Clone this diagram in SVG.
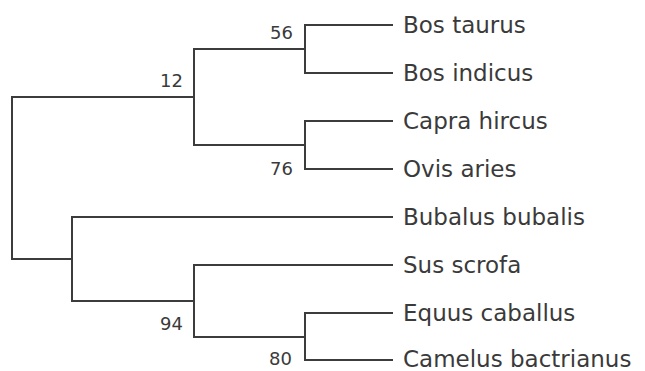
<svg xmlns="http://www.w3.org/2000/svg" width="645" height="371" viewBox="0 0 645 371">
  <style>
    .branch { fill: none; stroke: #3c3c3c; stroke-width: 2; stroke-linecap: square; }
    .taxon { font-family: "DejaVu Sans", Verdana, sans-serif; font-size: 23px; fill: #3a3a3a; }
    .boot { font-family: "DejaVu Sans", Verdana, sans-serif; font-size: 18px; fill: #3a3a3a; text-anchor: end; }
  </style>
  <rect width="645" height="371" fill="#ffffff"/>

  <!-- tree branches (rectangular cladogram) -->
  <g id="connectors">
    <!-- root -->
    <path class="branch" d="M194,97 H12 V259 H72"/>
    <!-- Bovidae clade -->
    <path class="branch" d="M305,49 H194 V145 H305"/>
    <!-- Bos pair -->
    <path class="branch" d="M392,25 H305 V73 H392"/>
    <!-- Capra/Ovis pair -->
    <path class="branch" d="M392,121 H305 V169 H392"/>
    <!-- Bubalus + rest -->
    <path class="branch" d="M392,217 H72 V301 H194"/>
    <!-- Sus + Equus/Camelus -->
    <path class="branch" d="M392,265 H194 V337 H305"/>
    <!-- Equus/Camelus pair -->
    <path class="branch" d="M392,313 H305 V360 H392"/>
  </g>

  <!-- bootstrap values -->
  <g id="support">
    <text class="boot" x="293" y="39">56</text>
    <text class="boot" x="183" y="87">12</text>
    <text class="boot" x="293" y="175">76</text>
    <text class="boot" x="183" y="330">94</text>
    <text class="boot" x="292" y="365">80</text>
  </g>

  <!-- taxa -->
  <g id="bos-taurus"><text class="taxon" x="403" y="33">Bos taurus</text></g>
  <g id="bos-indicus"><text class="taxon" x="403" y="81">Bos indicus</text></g>
  <g id="capra-hircus"><text class="taxon" x="403" y="129">Capra hircus</text></g>
  <g id="ovis-aries"><text class="taxon" x="403" y="177">Ovis aries</text></g>
  <g id="bubalus-bubalis"><text class="taxon" x="403" y="225">Bubalus bubalis</text></g>
  <g id="sus-scrofa"><text class="taxon" x="403" y="273">Sus scrofa</text></g>
  <g id="equus-caballus"><text class="taxon" x="403" y="321">Equus caballus</text></g>
  <g id="camelus-bactrianus"><text class="taxon" x="403" y="367">Camelus bactrianus</text></g>
</svg>
